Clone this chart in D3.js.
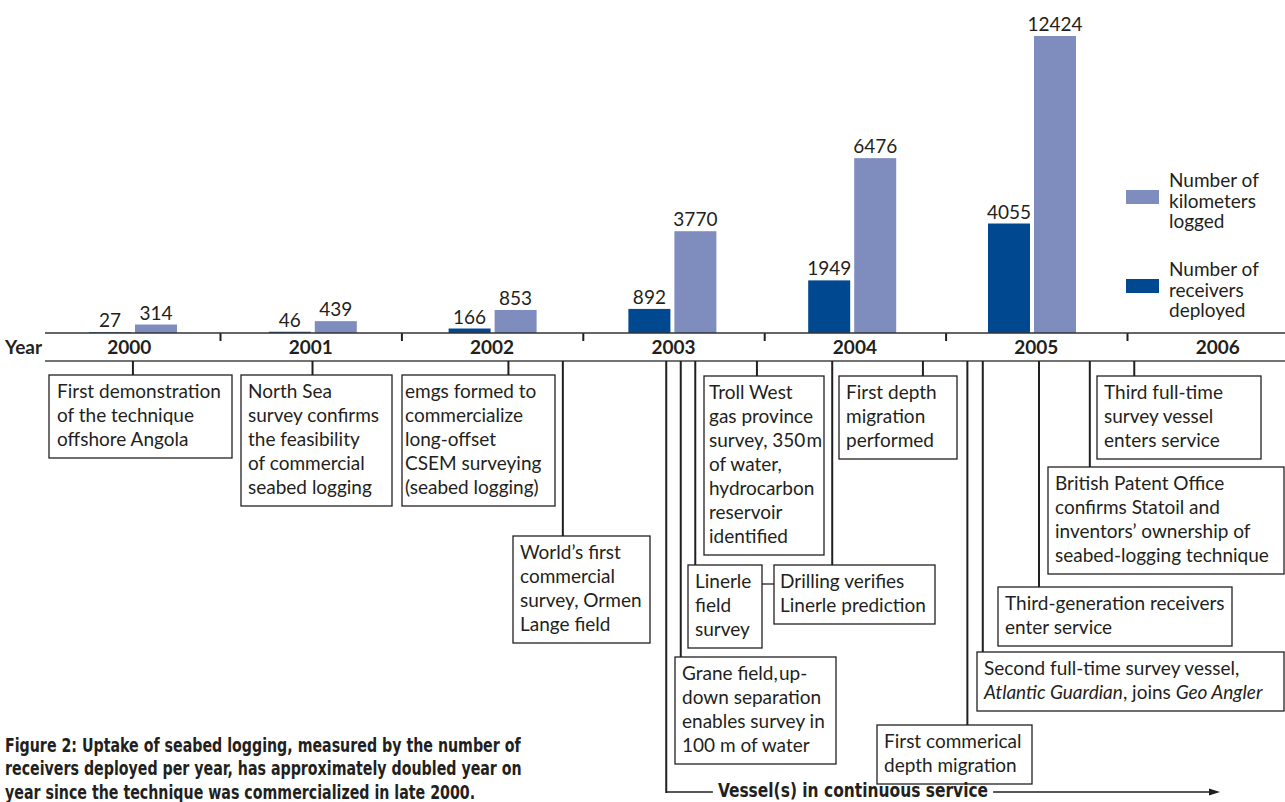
<!DOCTYPE html>
<html><head><meta charset="utf-8">
<script src="https://cdn.jsdelivr.net/npm/d3@7"></script>
<style>
html,body{margin:0;padding:0;background:#fff;}
svg{display:block;}
</style></head><body>
<svg id="chart" width="1285" height="802"></svg>
<script>
// ---- data ----
const years = [2000, 2001, 2002, 2003, 2004, 2005, 2006];
const barYears = [2000, 2001, 2002, 2003, 2004, 2005];
const receiversDeployed = [27, 46, 166, 892, 1949, 4055];
const kilometersLogged = [314, 439, 853, 3770, 6476, 12424];
const legendLabels = [["Number of", "kilometers", "logged"], ["Number of", "receivers", "deployed"]];

// milestones: decimal-year date and the lines of each note (*...* = italic)
const milestoneDates = [2000.52, 2001.51, 2002.59, 2002.89, 2003.96, 2004.875,
  2003.62, 2004.375, 2003.54, 2005.12, 2005.205, 2005.515, 2005.795, 2006.04];
const milestoneTexts = [
  ["First demonstration", "of the technique", "offshore Angola"],
  ["North Sea", "survey confirms", "the feasibility", "of commercial", "seabed logging"],
  ["emgs formed to", "commercialize", "long-offset", "CSEM surveying", "(seabed logging)"],
  ["World\u2019s first", "commercial", "survey, Ormen", "Lange field"],
  ["Troll West", "gas province", "survey, 350\u200Am", "of water,", "hydrocarbon", "reservoir", "identified"],
  ["First depth", "migration", "performed"],
  ["Linerle", "field", "survey"],
  ["Drilling verifies", "Linerle prediction"],
  ["Grane field,\u200Aup-", "down separation", "enables survey in", "100 m of water"],
  ["First commerical", "depth migration"],
  ["Second full-time survey vessel,", "*Atlantic Guardian*, joins *Geo Angler*"],
  ["Third-generation receivers", "enter service"],
  ["British Patent Office", "confirms Statoil and", "inventors\u2019 ownership of", "seabed-logging technique"],
  ["Third full-time", "survey vessel", "enters service"]
];
const vesselServiceStart = 2003.46;
const vesselLabel = "Vessel(s) in continuous service";
const captionLines = [
  "Figure 2: Uptake of seabed logging, measured by the number of",
  "receivers deployed per year, has approximately doubled year on",
  "year since the technique was commercialized in late 2000."
];

// ---- layout ----
const W = 1285;
const ink = "#231f20";
const colors = { kilometers: "#7f8cbe", receivers: "#00488f" };
const bodyFont = "Lato, 'Noto Sans', sans-serif";
const bodySize = 19;
const condFont = "'Liberation Sans Narrow', 'DejaVu Sans Condensed', sans-serif";
const condSize = 20;
const axisTop = 333, axisBottom = 361;
const lineStep = 24;

// note boxes: left edge, top edge, width, text inset
const noteBoxes = [
  { left: 49, top: 375, width: 183, inset: 8 },
  { left: 241, top: 375, width: 151, inset: 7 },
  { left: 402, top: 375, width: 153, inset: 3 },
  { left: 513, top: 536, width: 137, inset: 7 },
  { left: 704, top: 376, width: 120, inset: 5 },
  { left: 839, top: 376, width: 118, inset: 7 },
  { left: 688, top: 565, width: 74, inset: 7 },
  { left: 774, top: 565, width: 161, inset: 6 },
  { left: 675, top: 657, width: 161, inset: 7 },
  { left: 877, top: 725, width: 155, inset: 7 },
  { left: 977, top: 652, width: 307, inset: 7 },
  { left: 998, top: 587, width: 234, inset: 7 },
  { left: 1048, top: 467, width: 236, inset: 7 },
  { left: 1097, top: 376, width: 164, inset: 7 }
];

const svg = d3.select("#chart");

// time scale: each year spans one unit
const xTime = d3.scaleLinear().domain([2000, 2007]).range([38.6, 1308.4]);
// bar groups
const xBand = d3.scaleBand().domain(years).range([43.1, 1301.7]);
const xSeries = d3.scaleBand().domain(["receivers", "kilometers"])
  .range([-44, 44]).paddingInner(4 / 46);
// value scale; the tallest bar is cut at the top of the plot
const y = d3.scaleLinear().domain([0, 11000]).range([axisTop, 36]).clamp(true);

// ---- bars ----
const barData = [];
barYears.forEach((yr, i) => {
  barData.push({ year: yr, key: "receivers", value: receiversDeployed[i] });
  barData.push({ year: yr, key: "kilometers", value: kilometersLogged[i] });
});
const groupCenter = yr => xBand(yr) + xBand.bandwidth() / 2;

svg.append("g").selectAll("rect").data(barData).join("rect")
  .attr("x", d => groupCenter(d.year) + xSeries(d.key))
  .attr("width", xSeries.bandwidth())
  .attr("y", d => y(d.value))
  .attr("height", d => axisTop - y(d.value))
  .attr("fill", d => colors[d.key]);

svg.append("g").selectAll("text").data(barData).join("text")
  .attr("x", d => groupCenter(d.year) + xSeries(d.key) + xSeries.bandwidth() / 2)
  .attr("y", d => y(d.value) - 5)
  .attr("text-anchor", "middle")
  .attr("font-family", bodyFont).attr("font-size", bodySize).attr("fill", ink)
  .text(d => d.value);

// ---- year axis ----
const axisG = svg.append("g").attr("transform", `translate(0,${axisTop})`);
axisG.call(d3.axisBottom(xTime).tickValues(years.slice(1)).tickSize(8).tickSizeOuter(0).tickFormat(""));
axisG.select(".domain").remove();
axisG.selectAll(".tick line").attr("stroke", ink).attr("stroke-width", 2);

svg.append("line").attr("x1", 45).attr("x2", W).attr("y1", axisTop).attr("y2", axisTop)
  .attr("stroke", "#333").attr("stroke-width", 1.6);
svg.append("line").attr("x1", 45).attr("x2", W).attr("y1", axisBottom).attr("y2", axisBottom)
  .attr("stroke", "#444").attr("stroke-width", 1.6);

svg.append("g").selectAll("text").data(years).join("text")
  .attr("x", d => xTime(d + 0.5)).attr("y", 354)
  .attr("text-anchor", "middle")
  .attr("font-family", bodyFont).attr("font-weight", 700).attr("font-size", bodySize).attr("fill", ink)
  .text(d => d);
svg.append("text").attr("x", 5).attr("y", 354)
  .attr("font-family", bodyFont).attr("font-weight", 700).attr("font-size", bodySize).attr("fill", ink)
  .text("Year");

// ---- legend ----
const legendKeys = ["kilometers", "receivers"];
const legend = svg.append("g");
legendKeys.forEach((k, i) => {
  const top = 190 + i * 89;
  legend.append("rect").attr("x", 1126).attr("y", top).attr("width", 33).attr("height", 14)
    .attr("fill", colors[k]);
  legend.append("text").attr("font-family", bodyFont).attr("font-size", bodySize).attr("fill", ink)
    .selectAll("tspan").data(legendLabels[i]).join("tspan")
    .attr("x", 1169).attr("y", (d, j) => top - 3 + j * 20.5).text(d => d);
});

// ---- milestone notes ----
const notes = svg.append("g");
const boxHeight = n => n * lineStep + 11;

milestoneDates.forEach((date, i) => {
  const b = noteBoxes[i];
  const lines = milestoneTexts[i];
  const cx = xTime(date);
  notes.append("line").attr("x1", cx).attr("x2", cx).attr("y1", axisBottom).attr("y2", b.top)
    .attr("stroke", ink).attr("stroke-width", 2);
  notes.append("rect").attr("x", b.left).attr("y", b.top)
    .attr("width", b.width).attr("height", boxHeight(lines.length))
    .attr("fill", "#fff").attr("stroke", ink).attr("stroke-width", 1.3);
  const t = notes.append("text").attr("font-family", bodyFont).attr("font-size", bodySize).attr("fill", ink);
  lines.forEach((ln, j) => {
    let first = true;
    ln.split("*").forEach((p, k) => {
      if (!p) return;
      const ts = t.append("tspan").text(p).attr("font-style", k % 2 ? "italic" : "normal");
      if (first) ts.attr("x", b.left + b.inset).attr("y", b.top + 23 + j * lineStep);
      first = false;
    });
  });
});

// link between the two Linerle notes
{
  const a = noteBoxes[6], c = noteBoxes[7];
  notes.append("line").attr("x1", a.left + a.width).attr("x2", c.left)
    .attr("y1", a.top + 19).attr("y2", a.top + 19).attr("stroke", ink).attr("stroke-width", 1.3);
}

// ---- vessel service arrow ----
const vx = xTime(vesselServiceStart), vy = 792, arrowEnd = 1220;
const vessel = svg.append("g");
vessel.append("line").attr("x1", vx).attr("x2", vx).attr("y1", axisBottom).attr("y2", vy + 1)
  .attr("stroke", ink).attr("stroke-width", 2);
vessel.append("line").attr("x1", vx).attr("x2", arrowEnd - 8).attr("y1", vy).attr("y2", vy)
  .attr("stroke", ink).attr("stroke-width", 1.5);
vessel.append("path").attr("d", `M${arrowEnd},${vy} L${arrowEnd - 11},${vy - 3.5} L${arrowEnd - 11},${vy + 3.5} Z`)
  .attr("fill", ink);
const labelCx = 853, labelSqueeze = 0.86;
const gap = vessel.append("rect").attr("fill", "#fff");
const vLabel = vessel.append("text")
  .attr("transform", `translate(${labelCx},0) scale(${labelSqueeze},1)`)
  .attr("x", 0).attr("y", 797).attr("text-anchor", "middle")
  .attr("font-family", condFont).attr("font-weight", 700).attr("font-size", condSize).attr("fill", ink)
  .text(vesselLabel);
const vw = vLabel.node().getBBox().width * labelSqueeze;
gap.attr("x", labelCx - vw / 2 - 5).attr("y", vy - 3).attr("width", vw + 10).attr("height", 6);

// ---- caption ----
svg.append("text")
  .attr("transform", "translate(5,0) scale(0.79,1)")
  .attr("font-family", condFont).attr("font-weight", 700).attr("font-size", condSize).attr("fill", ink)
  .selectAll("tspan").data(captionLines).join("tspan")
  .attr("x", 0).attr("y", (d, i) => 752 + i * 23.5).text(d => d);
</script>
</body></html>
